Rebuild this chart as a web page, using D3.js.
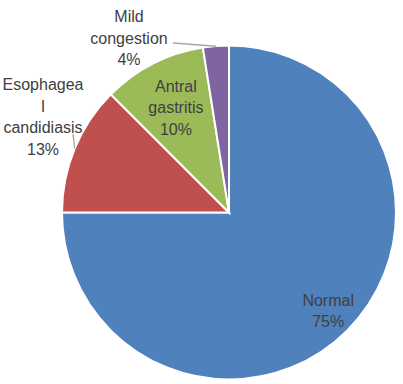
<!DOCTYPE html>
<html>
<head>
<meta charset="utf-8">
<script src="https://cdn.jsdelivr.net/npm/d3@7"></script>
<style>
  html, body { margin: 0; padding: 0; background: #fff; }
  svg { display: block; }
  text { font-family: "Liberation Sans", Arial, sans-serif; font-size: 16px; fill: #404040; }
</style>
</head>
<body>
<svg id="chart" width="403" height="384"></svg>
<script>
// Data
const categories = ["Normal", "Esophageal candidiasis", "Antral gastritis", "Mild congestion"];
const values = [75, 12.5, 10, 2.5];
const percentLabels = ["75%", "13%", "10%", "4%"];
const labelLines = [["Normal"], ["Esophagea", "l", "candidiasis"], ["Antral", "gastritis"], ["Mild", "congestion"]];
const colors = ["#4F81BD", "#C0504D", "#9BBB59", "#8064A2"];

const W = 403, H = 384;
const cx = 229, cy = 212.5, R = 167;
const svg = d3.select("#chart");
const g = svg.append("g").attr("transform", `translate(${cx},${cy})`);

const pie = d3.pie().sort(null).value(d => d);
const arcs = pie(values);
const arc = d3.arc().innerRadius(0).outerRadius(R);

g.selectAll("path.slice").data(arcs).enter().append("path")
  .attr("class", "slice")
  .attr("d", arc)
  .attr("fill", (d, i) => colors[i])
  .attr("stroke", "#fff")
  .attr("stroke-width", 2)
  .attr("stroke-linejoin", "miter");

// Label layout (polar: radius factor along mid angle, or explicit anchors for outside labels)
const lineH = 21.5;
const labelLayout = [
  { mode: "polar", rf: 0.84 },
  { mode: "abs", x: 43, y: 90 },
  { mode: "polar", rf: 0.70 },
  { mode: "abs", x: 129, y: 22 }
];

function polar(a, r) { return [r * Math.sin(a), -r * Math.cos(a)]; }

arcs.forEach((d, i) => {
  const lines = labelLines[i].concat([percentLabels[i]]);
  const lay = labelLayout[i];
  let x, y0;
  if (lay.mode === "polar") {
    const mid = (d.startAngle + d.endAngle) / 2;
    const p = polar(mid, R * lay.rf);
    x = cx + p[0];
    const blockH = (lines.length - 1) * lineH;
    y0 = cy + p[1] - blockH / 2 + 5;
  } else {
    x = lay.x; y0 = lay.y;
  }
  const t = svg.append("text").attr("text-anchor", "middle");
  lines.forEach((s, k) => {
    t.append("tspan").attr("x", x).attr("y", y0 + k * lineH).text(s);
  });
});

// Leader lines for outside labels
const leader = [
  { i: 1, from: [73, 134] },
  { i: 3, from: [173, 43] }
];
leader.forEach(l => {
  const d = arcs[l.i];
  const mid = (d.startAngle + d.endAngle) / 2;
  const p = polar(mid, R);
  const end = [cx + p[0], cy + p[1]];
  let pts;
  if (l.i === 3) pts = [l.from, [end[0] - 3, end[1]], end];
  else pts = [l.from, end];
  svg.append("path")
    .attr("d", d3.line()(pts))
    .attr("fill", "none")
    .attr("stroke", "#A6A6A6")
    .attr("stroke-width", 1.3);
});
</script>
</body>
</html>
